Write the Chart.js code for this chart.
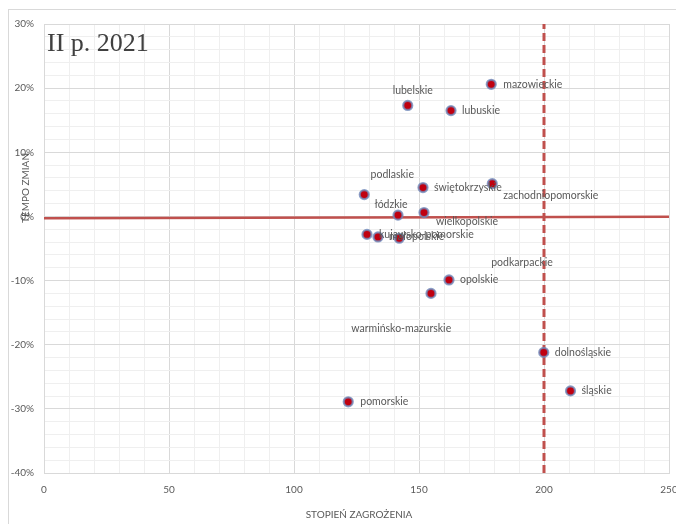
<!DOCTYPE html>
<html>
<head>
<meta charset="utf-8">
<script src="https://cdn.jsdelivr.net/npm/chart.js@4"></script>
<style>
  html, body { margin: 0; padding: 0; background: #ffffff; }
  #wrap { width: 676px; height: 524px; position: relative; }
</style>
</head>
<body>
<div id="wrap"><canvas id="c" width="676" height="524"></canvas></div>
<script>
// ---- data ----
const regions = ['mazowieckie','lubelskie','lubuskie','podlaskie','świętokrzyskie','zachodniopomorskie','łódzkie','wielkopolskie','kujawsko-pomorskie','małopolskie','warmińsko-mazurskie','opolskie','podkarpackie','dolnośląskie','śląskie','pomorskie'];
const stopienZagrozenia = [178.9, 145.5, 162.8, 128.1, 151.6, 179.3, 141.6, 152.0, 129.2, 133.6, 142.1, 162.0, 154.8, 199.9, 210.6, 121.7];
const tempoZmian = [20.6, 17.3, 16.5, 3.4, 4.5, 5.1, 0.2, 0.6, -2.8, -3.2, -3.4, -9.9, -12.0, -21.2, -27.2, -28.9];
const thresholdX = [200, 200];
const thresholdY = [-40, 30];
const trendX = [0, 250];
const trendY = [-0.3, -0.05];
const xTickLabels = [0, 50, 100, 150, 200, 250];
const yTickLabels = [-40, -30, -20, -10, 0, 10, 20, 30];

// label placement relative to each point (pixels): [dx, dy, align]
const labelPlacement = {
  'mazowieckie': [12, 0, 'left'],
  'lubelskie': [5, -15, 'center'],
  'lubuskie': [11, 0, 'left'],
  'podlaskie': [28, -20, 'center'],
  'świętokrzyskie': [11, 0, 'left'],
  'zachodniopomorskie': [11, 12, 'left'],
  'łódzkie': [-7, -11, 'center'],
  'wielkopolskie': [12, 9, 'left'],
  'kujawsko-pomorskie': [12, 0, 'left'],
  'małopolskie': [11, 0, 'left'],
  'warmińsko-mazurskie': [2, 90, 'center'],
  'opolskie': [11, 0, 'left'],
  'podkarpackie': [91, -31, 'center'],
  'dolnośląskie': [11, 0, 'left'],
  'śląskie': [11, 0, 'left'],
  'pomorskie': [12, 0, 'left']
};

const points = regions.map((r, i) => ({ x: stopienZagrozenia[i], y: tempoZmian[i] }));
const lineRed = 'rgb(192,80,77)';
const textGray = '#595959';

const decorPlugin = {
  id: 'decor',
  beforeDraw(chart) {
    const ctx = chart.ctx;
    ctx.save();
    ctx.fillStyle = '#ffffff';
    ctx.fillRect(0, 0, chart.width, chart.height);
    ctx.strokeStyle = '#d9d9d9';
    ctx.lineWidth = 1;
    ctx.strokeRect(8.5, 9.5, chart.width + 20, chart.height + 20);
    ctx.restore();
  },
  afterDraw(chart) {
    const ctx = chart.ctx;
    const area = chart.chartArea;
    ctx.save();
    // point labels
    const meta = chart.getDatasetMeta(0);
    ctx.font = '10.5px Lato, "Open Sans", sans-serif';
    ctx.fillStyle = textGray;
    ctx.textBaseline = 'middle';
    meta.data.forEach((el, i) => {
      const p = labelPlacement[regions[i]] || [10, 0, 'left'];
      ctx.textAlign = p[2];
      ctx.fillText(regions[i], el.x + p[0], el.y + p[1]);
    });
    // panel title
    ctx.font = '26px "Liberation Serif", "DejaVu Serif", serif';
    ctx.fillStyle = '#404040';
    ctx.textAlign = 'left';
    ctx.textBaseline = 'alphabetic';
    ctx.fillText('II p. 2021', area.left + 3, area.top + 27);
    // axis titles
    ctx.font = '10px Lato, "Open Sans", sans-serif';
    ctx.fillStyle = textGray;
    ctx.textAlign = 'center';
    ctx.textBaseline = 'middle';
    ctx.fillText('STOPIEŃ ZAGROŻENIA', 359, chart.height - 9);
    ctx.translate(26, area.top + 164);
    ctx.rotate(-Math.PI / 2);
    ctx.fillText('TEMPO ZMIAN', 0, 0);
    ctx.restore();
  }
};

new Chart(document.getElementById('c'), {
  type: 'scatter',
  data: {
    datasets: [
      {
        label: 'województwa',
        data: points,
        order: 0,
        pointRadius: 4.5,
        pointBorderWidth: 2.2,
        pointBackgroundColor: '#c00010',
        pointBorderColor: 'rgba(110,135,185,0.8)',
        pointHoverRadius: 4.5
      },
      {
        label: 'próg',
        data: thresholdX.map((x, i) => ({ x: x, y: thresholdY[i] })),
        type: 'line',
        order: 2,
        showLine: true,
        pointRadius: 0,
        borderColor: lineRed,
        borderWidth: 3,
        borderDash: [8, 4]
      },
      {
        label: 'trend',
        data: trendX.map((x, i) => ({ x: x, y: trendY[i] })),
        type: 'line',
        order: 1,
        showLine: true,
        pointRadius: 0,
        borderColor: lineRed,
        borderWidth: 2.5
      }
    ]
  },
  options: {
    responsive: false,
    animation: false,
    events: [],
    layout: { padding: { top: 24, right: 7, left: 0, bottom: 0 } },
    plugins: { legend: { display: false }, tooltip: { enabled: false }, title: { display: false } },
    scales: {
      x: {
        type: 'linear',
        min: xTickLabels[0],
        max: xTickLabels[xTickLabels.length - 1],
        afterFit(s) { s.height = 51; s.paddingLeft = 0; s.paddingRight = 0; },
        afterBuildTicks(s) {
          const t = [];
          for (let v = s.min; v <= s.max; v += 10) t.push({ value: v });
          s.ticks = t;
        },
        ticks: {
          autoSkip: false,
          maxRotation: 0,
          padding: 11,
          color: textGray,
          font: { family: 'Lato, "Open Sans", sans-serif', size: 10 },
          callback: (v) => xTickLabels.includes(v) ? String(v) : ''
        },
        grid: {
          drawTicks: false,
          color: (c) => (c.tick && xTickLabels.includes(c.tick.value)) ? '#d9d9d9' : '#efefef',
          lineWidth: 1
        },
        border: { color: '#d9d9d9' }
      },
      y: {
        type: 'linear',
        min: yTickLabels[0],
        max: yTickLabels[yTickLabels.length - 1],
        afterFit(s) { s.width = 44; s.paddingTop = 0; s.paddingBottom = 0; },
        afterBuildTicks(s) {
          const t = [];
          for (let v = s.min; v <= s.max; v += 2) t.push({ value: v });
          s.ticks = t;
        },
        ticks: {
          autoSkip: false,
          padding: 10,
          color: textGray,
          font: { family: 'Lato, "Open Sans", sans-serif', size: 10 },
          callback: (v) => yTickLabels.includes(v) ? v + '%' : ''
        },
        grid: {
          drawTicks: false,
          color: (c) => (c.tick && yTickLabels.includes(c.tick.value)) ? '#d9d9d9' : '#efefef',
          lineWidth: 1
        },
        border: { color: '#d9d9d9' }
      }
    }
  },
  plugins: [decorPlugin]
});
</script>
</body>
</html>
